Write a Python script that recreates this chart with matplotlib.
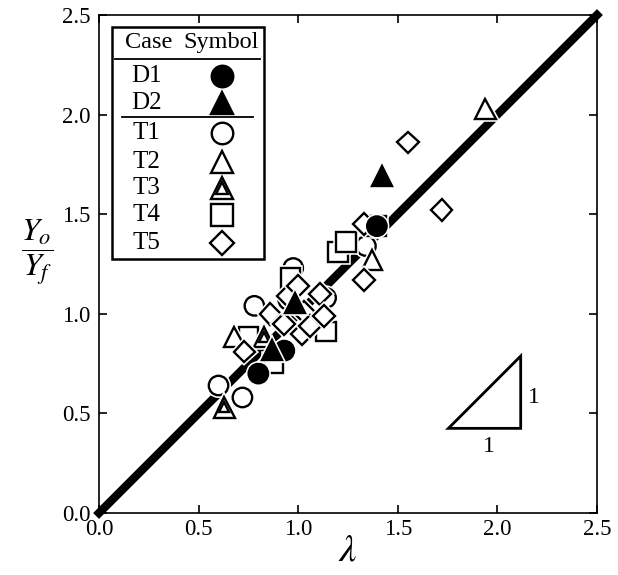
import matplotlib
matplotlib.use("Agg")
import matplotlib.pyplot as plt
from matplotlib import patheffects as pe
from matplotlib.patches import Polygon, Rectangle
from matplotlib.lines import Line2D

plt.rcParams["font.family"] = ["Liberation Serif", "DejaVu Serif"]
plt.rcParams["mathtext.fontset"] = "stix"

# ---- data: lambda (x) vs Yo/Yf (y) per case ----
d1_x = [0.80, 0.93, 1.395]
d1_y = [0.70, 0.815, 1.44]
d2_x = [0.87, 0.985, 1.42]
d2_y = [0.82, 1.055, 1.69]
t1_x = [0.60, 0.72, 0.78, 0.95, 0.975, 1.14, 1.34]
t1_y = [0.64, 0.58, 1.04, 1.07, 1.23, 1.08, 1.34]
t2_x = [0.68, 1.37, 1.94]
t2_y = [0.885, 1.27, 2.03]
t3_x = [0.63, 0.83]
t3_y = [0.53, 0.885]
t4_x = [0.75, 0.875, 0.96, 1.14, 1.20, 1.24, 1.39]
t4_y = [0.885, 0.75, 1.18, 0.91, 1.31, 1.36, 1.44]
t5_x = [0.73, 0.86, 0.93, 0.95, 1.00, 1.03, 1.02, 1.06, 1.11, 1.13, 1.33, 1.33, 1.55, 1.72]
t5_y = [0.81, 1.00, 0.95, 1.09, 1.14, 1.01, 0.90, 0.94, 1.10, 0.99, 1.17, 1.45, 1.86, 1.52]

case_labels = ["D1", "D2", "T1", "T2", "T3", "T4", "T5"]
ticks = [0.0, 0.5, 1.0, 1.5, 2.0, 2.5]
tick_labels = ["0.0", "0.5", "1.0", "1.5", "2.0", "2.5"]

fig = plt.figure(figsize=(6.18, 5.75), dpi=100)
ax = fig.add_axes([0.1602, 0.1078, 0.8058, 0.8661])
ax.set_xlim(0, 2.5)
ax.set_ylim(0, 2.5)

for s in ax.spines.values():
    s.set_linewidth(1.2)
ax.set_xticks(ticks)
ax.set_yticks(ticks)
ax.set_xticklabels(tick_labels)
ax.set_yticklabels(tick_labels)
ax.tick_params(direction="in", length=6, width=1.2, top=True, right=True,
               labelsize=16.5)
ax.tick_params(axis="x", pad=4)
ax.tick_params(axis="y", pad=6)

# 1:1 line
ax.plot([0, 2.5], [0, 2.5], color="black", lw=6, solid_capstyle="projecting",
        clip_on=False, zorder=2)

halo = [pe.withStroke(linewidth=4.0, foreground="white")]
EW = 1.7


def draw(x, y, marker, size, filled, z, effects=True, **kw):
    ax.plot(x, y, ls="none", marker=marker, ms=size,
            mfc="black" if filled else "white", mec="black", mew=EW,
            path_effects=halo if effects else None, zorder=z, clip_on=False, **kw)


draw(t1_x, t1_y, "o", 14, False, 3)
draw(t4_x, t4_y, "s", 14, False, 4)
draw(t2_x, t2_y, "^", 14.5, False, 5)
draw(t3_x, t3_y, "^", 14.5, False, 6)
draw(t3_x, t3_y, "^", 6.5, False, 6.1, effects=False)
draw(t5_x, t5_y, "D", 11, False, 7)
draw(d1_x, d1_y, "o", 14, True, 8)
draw(d2_x, d2_y, "^", 14.5, True, 9)

# slope indicator (1:1)
tri_x0, tri_y0, tri_side = 1.754, 0.425, 0.363
ax.add_patch(Polygon([[tri_x0, tri_y0], [tri_x0 + tri_side, tri_y0],
                      [tri_x0 + tri_side, tri_y0 + tri_side]],
                     closed=True, fill=False, lw=2, ec="black", zorder=3))
ax.text(tri_x0 + tri_side / 2 + 0.02, tri_y0 - 0.09, "1", fontsize=17,
        ha="center", va="center")
ax.text(tri_x0 + tri_side + 0.065, tri_y0 + tri_side * 0.42, "1", fontsize=17,
        ha="center", va="center")

# legend table
T = ax.transAxes
ax.add_patch(Rectangle((0.0255, 0.511), 0.3065, 0.464, transform=T, fill=True,
                       fc="white", ec="black", lw=1.8, zorder=10, clip_on=False))
ax.text(0.1004, 0.944, "Case", transform=T, fontsize=17.5, ha="center",
        va="center", zorder=11)
ax.text(0.245, 0.944, "Symbol", transform=T, fontsize=17.5, ha="center",
        va="center", zorder=11)
ax.add_line(Line2D([0.032, 0.323], [0.911, 0.911], transform=T, color="black",
                   lw=1.3, zorder=11))
ax.add_line(Line2D([0.0456, 0.3086], [0.7958, 0.7958], transform=T,
                   color="black", lw=1.3, zorder=11))

row_y = [0.8775, 0.8227, 0.7625, 0.7054, 0.652, 0.598, 0.5428]
sym = [("o", 15.5, True), ("^", 16, True), ("o", 15.5, False),
       ("^", 16, False), ("^", 16, False), ("s", 15.5, False),
       ("D", 12, False)]
for lab, yy, (m, ms, filled) in zip(case_labels, row_y, sym):
    ax.text(0.0958, yy, lab, transform=T, fontsize=18, ha="center",
            va="center", zorder=11)
    ax.plot([0.2464], [yy], transform=T, ls="none", marker=m, ms=ms,
            mfc="black" if filled else "white", mec="black", mew=EW,
            zorder=12, clip_on=False)
    if lab == "T3":
        ax.plot([0.2464], [yy], transform=T, ls="none", marker="^", ms=8,
                mfc="white", mec="black", mew=EW, zorder=13, clip_on=False)

fig.text(0.06, 0.562, r"$\dfrac{Y_o}{Y_f}$", fontsize=23, ha="center",
         va="center")
fig.text(0.563, 0.042, r"$\lambda$", fontsize=28, ha="center", va="center")

fig.savefig("out.png", dpi=100)
